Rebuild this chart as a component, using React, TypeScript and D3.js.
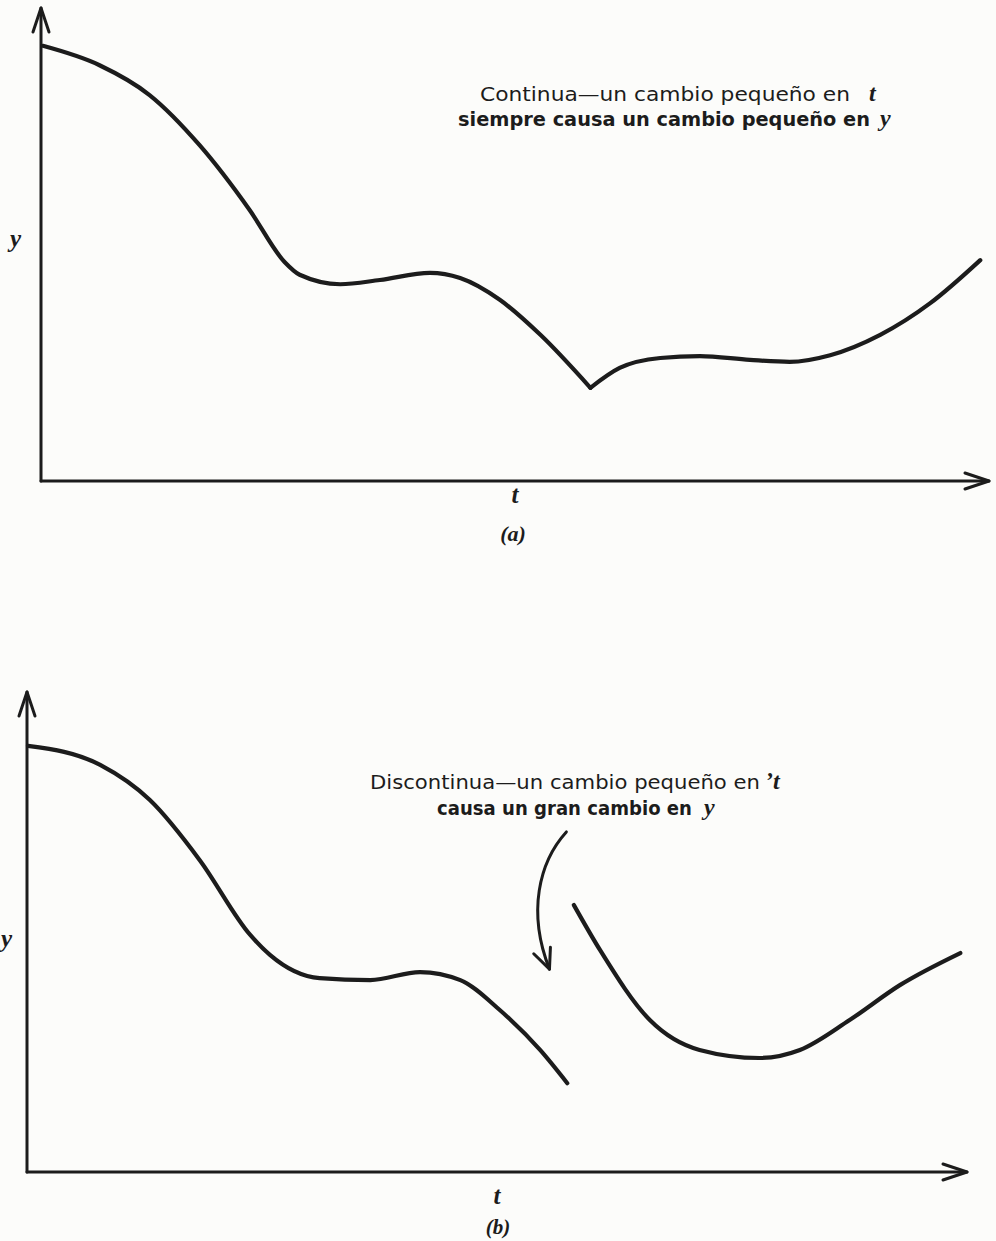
import React from "react";
import * as d3 from "d3";

// Panel (a): a continuous function with a kink, split at the corner point
const contBeforeKinkT = [0.2, 6.2, 11.5, 16.8, 22.1, 25.8, 27.4, 31.7, 35.9, 41.2, 44.4, 48.6, 52.9, 58.2];
const contBeforeKinkY = [92.0, 87.9, 81.6, 71.0, 57.3, 46.3, 43.6, 41.6, 42.5, 44.0, 42.9, 38.3, 30.9, 19.7];
const contAfterKinkT = [58.2, 61.3, 65.6, 69.8, 75.1, 79.3, 83.6, 88.9, 94.2, 99.5];
const contAfterKinkY = [19.7, 23.9, 26.0, 26.4, 25.6, 25.2, 26.6, 30.9, 37.6, 46.7];

// Panel (b): a discontinuous function, two separate pieces
const discLeftT = [0.1, 7.8, 13.1, 18.4, 23.8, 25.9, 31.2, 36.6, 41.9, 46.2, 50.4, 54.7, 57.6];
const discLeftY = [89.7, 85.7, 78.3, 65.7, 49.9, 45.7, 40.8, 40.4, 42.1, 40.4, 34.1, 25.7, 18.7];
const discRightT = [58.3, 61.1, 66.4, 71.7, 78.1, 82.4, 87.7, 93.1, 99.5];
const discRightY = [56.2, 46.7, 32.0, 25.7, 24.0, 25.7, 32.0, 39.4, 46.1];

// Pointer arrow in panel (b): start, two control points, tip (in data units)
const pointerT = [57.5, 54.6, 53.3, 55.7];
const pointerY = [71.6, 65.3, 54.7, 42.7];

const captionA = ["Continua\u2014un cambio pequeño en", "siempre causa un cambio pequeño en"];
const captionB = ["Discontinua\u2014un cambio pequeño en", "causa un gran cambio en"];

const W = 996;
const H = 1241;
const INK = "#1c1c1c";
const SANS = "'DejaVu Sans', 'Noto Sans', sans-serif";
const SERIF = "'Liberation Serif', 'DejaVu Serif', serif";

type Pt = [number, number];
const zip = (a: number[], b: number[]): Pt[] => a.map((v, i) => [v, b[i]]);

function Axes({ x0, y0, xTip, yTip }: { x0: number; y0: number; xTip: number; yTip: number }) {
  const b = 8;
  const l = 24;
  return (
    <g stroke={INK} strokeWidth={3} fill="none" strokeLinecap="round" strokeLinejoin="round">
      <line x1={x0} y1={y0} x2={x0} y2={yTip} />
      <line x1={x0} y1={y0} x2={xTip} y2={y0} />
      <path d={`M${x0 - b},${yTip + l} L${x0},${yTip} L${x0 + b},${yTip + l}`} />
      <path d={`M${xTip - l},${y0 - b} L${xTip},${y0} L${xTip - l},${y0 + b}`} />
    </g>
  );
}

// A sans caption fitted between two x positions, followed by an italic math letter
function Caption({ x, x1, y, text, bold, math, mathX }: { x: number; x1: number; y: number; text: string; bold?: boolean; math: string; mathX: number }) {
  return (
    <g fill={INK}>
      <text x={x} y={y} fontFamily={SANS} fontSize={19} fontWeight={bold ? "bold" : "normal"} textLength={x1 - x} lengthAdjust="spacingAndGlyphs">
        {text}
      </text>
      <text x={mathX} y={y} fontFamily={SERIF} fontStyle="italic" fontWeight="bold" fontSize={24}>
        {math}
      </text>
    </g>
  );
}

export default function App() {
  // Panel (a) scales
  const xa = d3.scaleLinear().domain([0, 100]).range([41, 985]);
  const ya = d3.scaleLinear().domain([0, 100]).range([481, 8]);
  // Panel (b) scales
  const xb = d3.scaleLinear().domain([0, 100]).range([27, 965]);
  const yb = d3.scaleLinear().domain([0, 100]).range([1172, 697]);

  const lineA = d3
    .line<Pt>()
    .x((d) => xa(d[0]))
    .y((d) => ya(d[1]))
    .curve(d3.curveMonotoneX);
  const lineB = d3
    .line<Pt>()
    .x((d) => xb(d[0]))
    .y((d) => yb(d[1]))
    .curve(d3.curveMonotoneX);

  const p = pointerT.map((t, i) => [xb(t), yb(pointerY[i])]);
  const pointerPath = `M${p[0][0]},${p[0][1]} C${p[1][0]},${p[1][1]} ${p[2][0]},${p[2][1]} ${p[3][0]},${p[3][1]}`;
  const ang = Math.atan2(p[3][1] - p[2][1], p[3][0] - p[2][0]);
  const hl = 22;
  const spread = 0.42;
  const tip = p[3];
  const barb1: Pt = [tip[0] - hl * Math.cos(ang - spread), tip[1] - hl * Math.sin(ang - spread)];
  const barb2: Pt = [tip[0] - hl * Math.cos(ang + spread), tip[1] - hl * Math.sin(ang + spread)];

  const curveStyle = { stroke: INK, strokeWidth: 4.2, fill: "none", strokeLinecap: "round" as const, strokeLinejoin: "round" as const };

  return (
    <div style={{ position: "absolute", left: 0, top: 0 }}>
      <svg width={W} height={H} viewBox={`0 0 ${W} ${H}`} style={{ display: "block", background: "#fcfcfa" }}>
        {/* Panel (a) */}
        <Axes x0={xa(0)} y0={ya(0)} xTip={xa(100) + 4} yTip={ya(100)} />
        <path d={lineA(zip(contBeforeKinkT, contBeforeKinkY)) || ""} {...curveStyle} />
        <path d={lineA(zip(contAfterKinkT, contAfterKinkY)) || ""} {...curveStyle} />
        <text x={10} y={247} fontFamily={SERIF} fontStyle="italic" fontWeight="bold" fontSize={25} fill={INK}>y</text>
        <text x={515} y={503} fontFamily={SERIF} fontStyle="italic" fontWeight="bold" fontSize={25} fill={INK} textAnchor="middle">t</text>
        <text x={513} y={541} fontFamily={SERIF} fontStyle="italic" fontWeight="bold" fontSize={22} fill={INK} textAnchor="middle">(a)</text>
        <Caption x={480} x1={850} y={101} text={captionA[0]} math="t" mathX={869} />
        <Caption x={458} x1={870} y={126} text={captionA[1]} bold math="y" mathX={880} />

        {/* Panel (b) */}
        <Axes x0={xb(0)} y0={yb(0)} xTip={xb(100) + 2} yTip={yb(100) - 5} />
        <path d={lineB(zip(discLeftT, discLeftY)) || ""} {...curveStyle} />
        <path d={lineB(zip(discRightT, discRightY)) || ""} {...curveStyle} />
        <path d={pointerPath} stroke={INK} strokeWidth={3} fill="none" strokeLinecap="round" />
        <path d={`M${barb1[0]},${barb1[1]} L${tip[0]},${tip[1]} L${barb2[0]},${barb2[1]}`} stroke={INK} strokeWidth={3} fill="none" strokeLinecap="round" strokeLinejoin="round" />
        <text x={1} y={947} fontFamily={SERIF} fontStyle="italic" fontWeight="bold" fontSize={25} fill={INK}>y</text>
        <text x={497} y={1204} fontFamily={SERIF} fontStyle="italic" fontWeight="bold" fontSize={25} fill={INK} textAnchor="middle">t</text>
        <text x={498} y={1234} fontFamily={SERIF} fontStyle="italic" fontWeight="bold" fontSize={21} fill={INK} textAnchor="middle">(b)</text>
        <Caption x={370} x1={760} y={789} text={captionB[0]} math={"\u02bct"} mathX={765} />
        <Caption x={437} x1={692} y={815} text={captionB[1]} bold math="y" mathX={704} />
      </svg>
    </div>
  );
}
